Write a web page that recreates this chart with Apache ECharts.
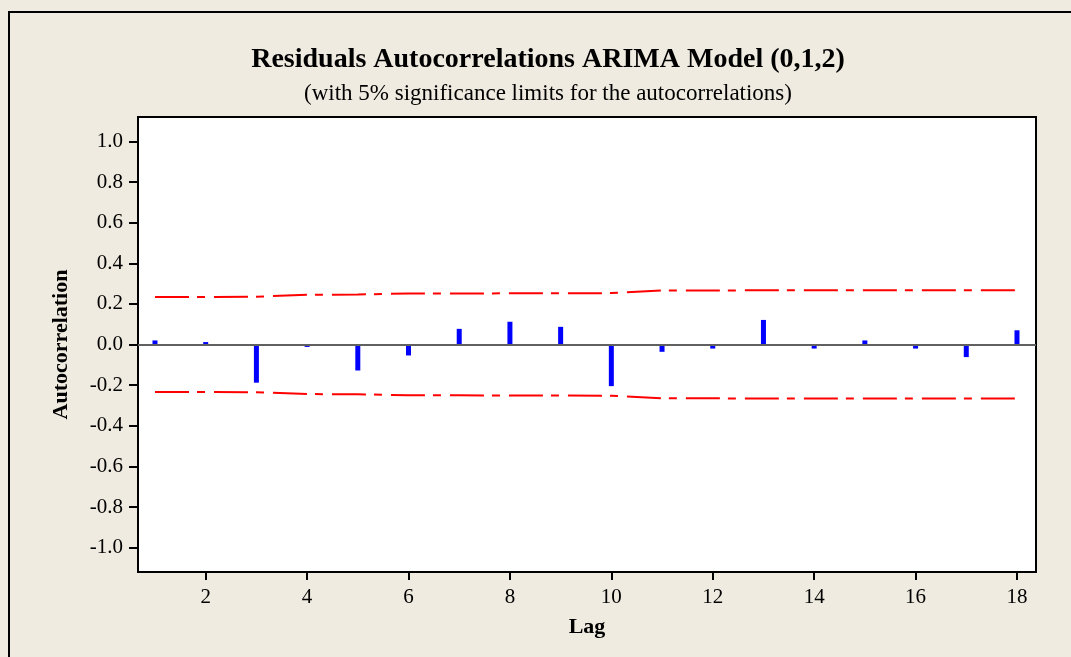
<!DOCTYPE html>
<html lang="en">
  <head>
    <meta charset="UTF-8" />
    <title>Residuals Autocorrelations</title>
    <script src="https://cdnjs.cloudflare.com/ajax/libs/echarts/6.0.0/echarts.min.js"></script>
    <style>
      html, body { margin: 0; padding: 0; background: #efebe0; }
      #main { width: 1071px; height: 657px; }
    </style>
  </head>
  <body>
    <div id="main"></div>
    <script>
      // data
      var lags = [1, 2, 3, 4, 5, 6, 7, 8, 9, 10, 11, 12, 13, 14, 15, 16, 17, 18];
      var acf = [0.02, 0.012, -0.188, -0.012, -0.128, -0.054, 0.077, 0.112, 0.087,
                 -0.205, -0.036, -0.02, 0.121, -0.02, 0.02, -0.02, -0.062, 0.07];
      var upperLimit = [0.234, 0.234, 0.235, 0.245, 0.246, 0.251, 0.251, 0.252, 0.252,
                        0.253, 0.266, 0.266, 0.267, 0.267, 0.267, 0.267, 0.267, 0.267];
      var lowerLimit = [-0.234, -0.234, -0.235, -0.244, -0.245, -0.25, -0.25, -0.251, -0.251,
                        -0.252, -0.265, -0.265, -0.266, -0.266, -0.266, -0.266, -0.266, -0.266];
      var xTicks = [2, 4, 6, 8, 10, 12, 14, 16, 18];
      var yTicks = [-1.0, -0.8, -0.6, -0.4, -0.2, 0.0, 0.2, 0.4, 0.6, 0.8, 1.0];

      var font = "'Liberation Serif', 'Times New Roman', serif";

      function pairs(ys) {
        return lags.map(function (l, i) { return [l, ys[i]]; });
      }

      var myChart = echarts.init(document.getElementById("main"));
      var option = {
        animation: false,
        backgroundColor: "#efebe0",
        title: [
          {
            text: "Residuals Autocorrelations ARIMA Model (0,1,2)",
            left: 548,
            top: 46,
            textAlign: "center",
            padding: 0,
            textStyle: { fontFamily: font, fontSize: 28, fontWeight: "bold", color: "#000", lineHeight: 28 }
          },
          {
            text: "(with 5% significance limits for the autocorrelations)",
            left: 548,
            top: 82,
            textAlign: "center",
            padding: 0,
            textStyle: { fontFamily: font, fontSize: 23, fontWeight: "normal", color: "#000", lineHeight: 24 }
          }
        ],
        graphic: [
          {
            type: "rect",
            z: -1,
            shape: { x: 9, y: 12, width: 1100, height: 700 },
            style: { fill: "none", stroke: "#000", lineWidth: 2 }
          }
        ],
        grid: {
          left: 138,
          right: 35,
          top: 117,
          bottom: 85,
          show: true,
          backgroundColor: "#fff",
          borderColor: "#000",
          borderWidth: 2
        },
        xAxis: {
          type: "value",
          min: 0.665,
          max: 18.375,
          name: "Lag",
          nameLocation: "middle",
          nameGap: 44,
          nameTextStyle: { fontFamily: font, fontSize: 22, fontWeight: "bold", color: "#000" },
          axisLine: { show: true, onZero: false, lineStyle: { color: "#000", width: 2 } },
          axisTick: { show: true, length: 8, customValues: xTicks, lineStyle: { color: "#000", width: 2 } },
          axisLabel: { customValues: xTicks, margin: 15, fontFamily: font, fontSize: 21, color: "#000" },
          splitLine: { show: false }
        },
        yAxis: {
          type: "value",
          min: -1.12,
          max: 1.12,
          name: "Autocorrelation",
          nameLocation: "middle",
          nameRotate: 90,
          nameGap: 66,
          nameTextStyle: { fontFamily: font, fontSize: 22, fontWeight: "bold", color: "#000" },
          axisLine: { show: true, lineStyle: { color: "#000", width: 2 } },
          axisTick: { show: true, length: 9, customValues: yTicks, lineStyle: { color: "#000", width: 2 } },
          axisLabel: {
            customValues: yTicks,
            margin: 15,
            fontFamily: font,
            fontSize: 21,
            color: "#000",
            formatter: function (v) { return v.toFixed(1); }
          },
          splitLine: { show: false }
        },
        series: [
          {
            type: "bar",
            name: "ACF",
            data: pairs(acf),
            barWidth: 5,
            itemStyle: { color: "#0000ff" },
            markLine: {
              silent: true,
              symbol: "none",
              label: { show: false },
              lineStyle: { color: "#606060", width: 2, type: "solid" },
              data: [{ yAxis: 0 }]
            },
            z: 3
          },
          {
            type: "line",
            name: "Upper",
            data: pairs(upperLimit),
            symbol: "none",
            lineStyle: { color: "#ff0000", width: 2, type: [34, 8, 8, 9] },
            z: 2
          },
          {
            type: "line",
            name: "Lower",
            data: pairs(lowerLimit),
            symbol: "none",
            lineStyle: { color: "#ff0000", width: 2, type: [34, 8, 8, 9] },
            z: 2
          }
        ]
      };
      myChart.setOption(option);
    </script>
  </body>
</html>
